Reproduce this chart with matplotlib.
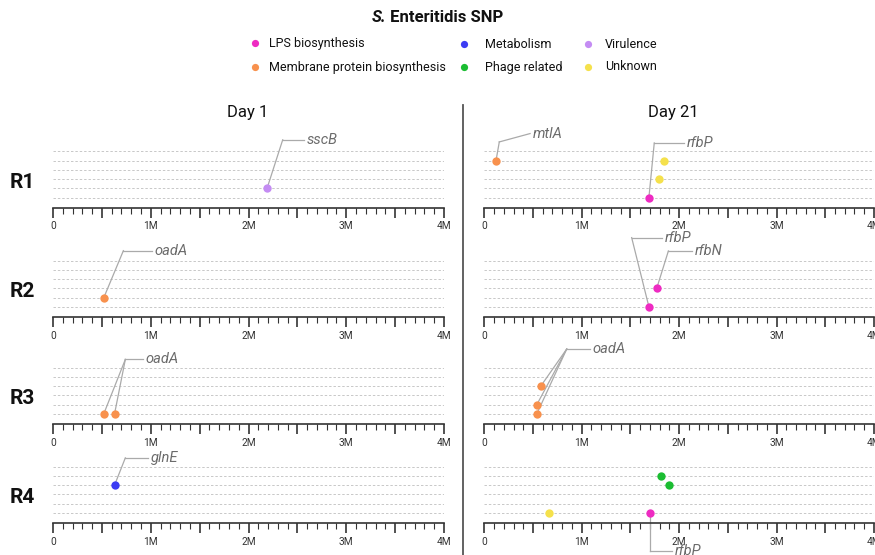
import matplotlib
matplotlib.use("Agg")
import matplotlib.pyplot as plt
from matplotlib.ticker import FixedLocator, FuncFormatter, MultipleLocator

plt.rcParams["font.family"] = ["Roboto", "DejaVu Sans"]

# --- data -----------------------------------------------------------------
categories = ["LPS biosynthesis", "Membrane protein biosynthesis", "Metabolism",
              "Phage related", "Virulence", "Unknown"]
cat_colors = ["#ee2bc2", "#f8914d", "#3c3cf3", "#1bbd32", "#c48cf3", "#f5e14c"]

days = [1, 21]
replicates = ["R1", "R2", "R3", "R4"]

# one entry per SNP
snp_day = [1, 1, 1, 1, 1,
           21, 21, 21, 21, 21, 21, 21, 21, 21, 21, 21, 21, 21]
snp_rep = ["R1", "R2", "R3", "R3", "R4",
           "R1", "R1", "R1", "R1", "R2", "R2", "R3", "R3", "R3", "R4", "R4", "R4", "R4"]
snp_pos_mb = [2.19, 0.52, 0.52, 0.63, 0.63,
              0.12, 1.84, 1.79, 1.69, 1.69, 1.77, 0.58, 0.54, 0.54, 1.81, 1.90, 0.66, 1.70]
snp_lane = [2, 2, 1, 1, 4,
            5, 5, 3, 1, 1, 3, 4, 2, 1, 5, 4, 1, 1]
snp_cat = ["Virulence", "Membrane protein biosynthesis", "Membrane protein biosynthesis",
           "Membrane protein biosynthesis", "Metabolism",
           "Membrane protein biosynthesis", "Unknown", "Unknown", "LPS biosynthesis",
           "LPS biosynthesis", "LPS biosynthesis",
           "Membrane protein biosynthesis", "Membrane protein biosynthesis",
           "Membrane protein biosynthesis",
           "Phage related", "Phage related", "Unknown", "LPS biosynthesis"]
snp_gene = ["sscB", "oadA", "oadA", "oadA", "glnE",
            "mtlA", "", "", "rfbP", "rfbP", "rfbN", "oadA", "oadA", "oadA", "", "", "", "rfbP"]

genome_mb = 4.0
tick_labels = ["0", "1M", "2M", "3M", "4M"]

# --- layout ---------------------------------------------------------------
W, H = 875, 555
panel_x0 = {1: 53.0, 21: 484.3}
px_per_mb = {1: 97.75, 21: 97.4}
row_base = [207.5, 316.8, 423.7, 522.7]
lane_px = 9.2
y_lo = 1 - 10 / lane_px
y_hi = 6.5

# leader line layout per labelled gene: elbow (mb, lane), end (mb, lane)
label_layout = {
    (1, "R1", "sscB"): (2.35, 7.27, 2.57, 7.27),
    (1, "R2", "oadA"): (0.72, 7.10, 1.01, 7.10),
    (1, "R3", "oadA"): (0.74, 6.90, 0.92, 6.90),
    (1, "R4", "glnE"): (0.74, 6.96, 0.97, 6.96),
    (21, "R1", "mtlA"): (0.154, 7.04, 0.47, 7.95),
    (21, "R1", "rfbP"): (1.745, 6.93, 2.05, 6.93),
    (21, "R2", "rfbP"): (1.513, 8.52, 1.82, 8.52),
    (21, "R2", "rfbN"): (1.89, 7.07, 2.13, 7.07),
    (21, "R3", "oadA"): (0.846, 8.03, 1.085, 8.03),
    (21, "R4", "rfbP"): (1.70, -3.13, 1.925, -3.13),
}

color_of = dict(zip(categories, cat_colors))

fig = plt.figure(figsize=(W / 100, H / 100), dpi=100)

for day in days:
    for ri, rep in enumerate(replicates):
        left = panel_x0[day] / W
        width = genome_mb * px_per_mb[day] / W
        height = (y_hi - y_lo) * lane_px / H
        bottom = 1 - row_base[ri] / H
        ax = fig.add_axes([left, bottom, width, height])
        ax.set_xlim(0, genome_mb)
        ax.set_ylim(y_lo, y_hi)
        ax.patch.set_visible(False)
        for side in ("top", "left", "right"):
            ax.spines[side].set_visible(False)
        ax.spines["bottom"].set_color("#333333")
        ax.spines["bottom"].set_linewidth(1.2)
        ax.set_yticks([])

        ax.xaxis.set_major_locator(MultipleLocator(0.5))
        ax.xaxis.set_major_formatter(FuncFormatter(
            lambda v, _: tick_labels[int(round(v))] if abs(v - round(v)) < 1e-6 else ""))
        ax.xaxis.set_minor_locator(FixedLocator(
            [i / 10 for i in range(41) if i % 5 != 0]))
        ax.tick_params(axis="x", which="major", length=7, width=1.2, color="#333333",
                       labelsize=7.3, labelcolor="#333333", pad=3)
        ax.tick_params(axis="x", which="minor", length=4, width=0.8, color="#333333")

        ax.hlines(range(1, 7), 0, genome_mb, colors="#c8c8c8", linewidth=0.7,
                  linestyles=(0, (2.5, 2)), zorder=1)

        idx = [i for i in range(len(snp_day)) if snp_day[i] == day and snp_rep[i] == rep]

        # leader lines + labels
        for (ld, lr, gene), (ex, ey, tx, ty) in label_layout.items():
            if ld != day or lr != rep:
                continue
            for i in idx:
                if snp_gene[i] == gene:
                    ax.plot([snp_pos_mb[i], ex], [snp_lane[i], ey], color="#aaaaaa",
                            lw=0.9, clip_on=False, zorder=2)
            ax.plot([ex, tx], [ey, ty], color="#aaaaaa", lw=0.9, clip_on=False, zorder=2)
            ax.text(tx + 0.03, ty, gene, style="italic", fontsize=10.5, color="#6b6b6b",
                    ha="left", va="center")

        for i in idx:
            ax.plot(snp_pos_mb[i], snp_lane[i], "o", ms=6, mew=0,
                    color=color_of[snp_cat[i]], clip_on=False, zorder=3)

# overlay in pixel coordinates for titles, legend and separators
ov = fig.add_axes([0, 0, 1, 1])
ov.set_xlim(0, W)
ov.set_ylim(H, 0)
ov.axis("off")
ov.patch.set_visible(False)

# title with italic genus initial
t1 = ov.text(0, 18, "S.", fontsize=12, fontweight="bold", style="italic",
             ha="left", va="center", color="#111111")
t2 = ov.text(0, 18, " Enteritidis SNP", fontsize=12, fontweight="bold",
             ha="left", va="center", color="#111111")
fig.canvas.draw()
r = fig.canvas.get_renderer()
w1 = t1.get_window_extent(r).width
w2 = t2.get_window_extent(r).width
start = W / 2 - (w1 + w2) / 2
t1.set_x(start)
t2.set_x(start + w1)

# legend
legend_pos = [(255, 43), (255, 67), (464, 44), (464, 67), (588, 44), (588, 67)]
legend_text_dx = [14, 14, 21, 21, 17, 17]
for (lx, ly), dx, cat, col in zip(legend_pos, legend_text_dx, categories, cat_colors):
    ov.plot(lx, ly, "o", ms=5.2, mew=0, color=col)
    ov.text(lx + dx, ly, cat, fontsize=9, ha="left", va="center", color="#111111")

ov.text(248, 112, "Day 1", fontsize=12, ha="center", va="center", color="#111111")
ov.text(673, 113, "Day 21", fontsize=12, ha="center", va="center", color="#111111")

for ri, rep in enumerate(replicates):
    ov.text(10, row_base[ri] - 25, rep, fontsize=15, fontweight="bold",
            ha="left", va="center", color="#111111")

ov.plot([463, 463], [105, H], color="#555555", lw=1.3)

fig.savefig("out.png", dpi=100)
